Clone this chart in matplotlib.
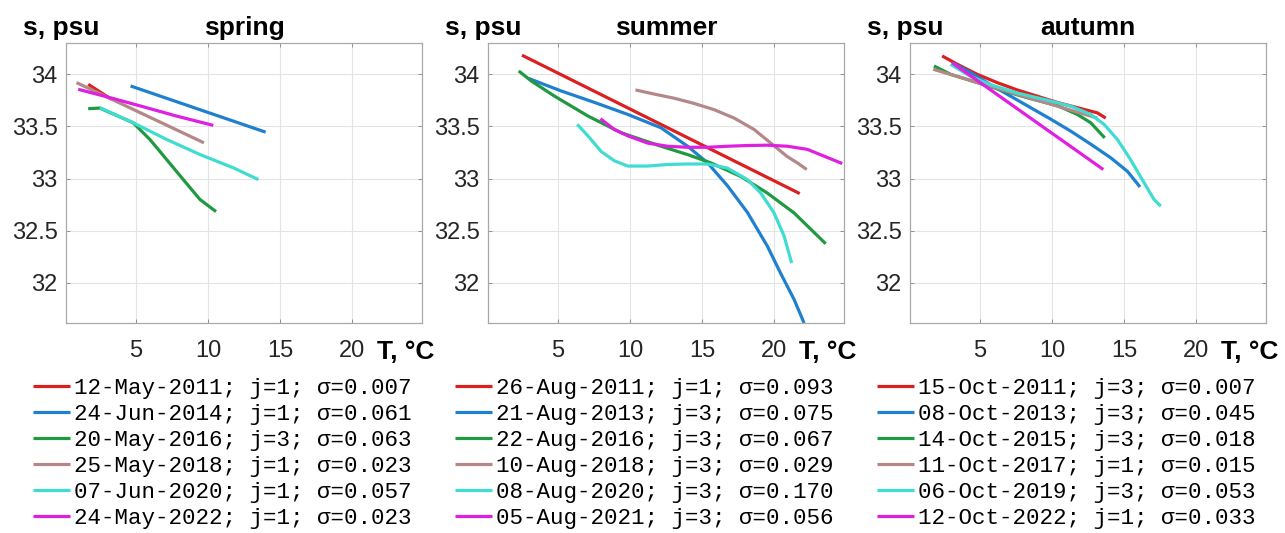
import matplotlib
matplotlib.use('Agg')
import numpy as np
from matplotlib import pyplot as plt

### Data (T in deg C, s in psu)
seasons = ['spring', 'summer', 'autumn']
colors = ['#dc2020', '#2080d0', '#209a40', '#b48888', '#40dcd2', '#e020e0']

labels_spring = ['12-May-2011; j=1; σ=0.007', '24-Jun-2014; j=1; σ=0.061',
                 '20-May-2016; j=3; σ=0.063', '25-May-2018; j=1; σ=0.023',
                 '07-Jun-2020; j=1; σ=0.057', '24-May-2022; j=1; σ=0.023']
labels_summer = ['26-Aug-2011; j=1; σ=0.093', '21-Aug-2013; j=3; σ=0.075',
                 '22-Aug-2016; j=3; σ=0.067', '10-Aug-2018; j=3; σ=0.029',
                 '08-Aug-2020; j=3; σ=0.170', '05-Aug-2021; j=3; σ=0.056']
labels_autumn = ['15-Oct-2011; j=3; σ=0.007', '08-Oct-2013; j=3; σ=0.045',
                 '14-Oct-2015; j=3; σ=0.018', '11-Oct-2017; j=1; σ=0.015',
                 '06-Oct-2019; j=3; σ=0.053', '12-Oct-2022; j=1; σ=0.033']

# spring
t_spring = [
    [1.69, 3.3],
    [4.63, 14.0],
    [1.69, 2.5, 4.81, 5.97, 7.13, 8.29, 9.44, 10.56],
    [0.88, 9.72],
    [2.5, 4.81, 7.13, 9.44, 11.76, 13.5],
    [1.0, 3.2, 5.5, 7.8, 10.37],
]
s_spring = [
    [33.904, 33.76],
    [33.888, 33.445],
    [33.67, 33.676, 33.535, 33.375, 33.183, 32.99, 32.80, 32.683],
    [33.92, 33.343],
    [33.68, 33.535, 33.375, 33.231, 33.103, 32.99],
    [33.856, 33.776, 33.689, 33.60, 33.51],
]

# summer
t_summer = [
    [2.51, 21.78],
    [2.97, 5.23, 7.54, 9.85, 12.15, 14.0, 15.39, 16.77, 18.15, 19.54, 20.46, 21.39, 22.08],
    [2.28, 3.15, 4.77, 7.08, 9.38, 12.15, 14.0, 15.62, 17.69, 19.54, 21.39, 23.58],
    [10.38, 11.69, 13.08, 14.46, 15.85, 17.23, 18.62, 19.77, 20.92, 21.62, 22.26],
    [6.34, 7.08, 8.0, 8.92, 9.85, 11.23, 12.62, 14.0, 15.39, 16.77, 18.15, 19.08, 20.0, 20.69, 21.22],
    [7.95, 8.92, 9.85, 11.23, 12.62, 14.0, 15.39, 16.77, 18.15, 19.54, 20.92, 22.31, 23.46, 24.73],
]
s_summer = [
    [34.183, 32.856],
    [33.96, 33.84, 33.73, 33.615, 33.487, 33.31, 33.15, 32.93, 32.675, 32.35, 32.09, 31.84, 31.615],
    [34.032, 33.936, 33.79, 33.6, 33.44, 33.31, 33.23, 33.15, 33.02, 32.86, 32.67, 32.375],
    [33.85, 33.81, 33.77, 33.72, 33.66, 33.58, 33.47, 33.34, 33.21, 33.15, 33.087],
    [33.52, 33.41, 33.26, 33.17, 33.12, 33.12, 33.135, 33.14, 33.14, 33.10, 32.99, 32.86, 32.67, 32.45, 32.19],
    [33.574, 33.47, 33.41, 33.34, 33.31, 33.30, 33.30, 33.31, 33.317, 33.32, 33.31, 33.28, 33.215, 33.144],
]

# autumn
t_autumn = [
    [2.38, 3.43, 4.81, 6.2, 7.59, 8.98, 10.37, 11.76, 13.15, 13.73],
    [3.08, 4.35, 5.74, 7.13, 8.52, 9.91, 11.3, 12.69, 14.07, 15.23, 16.11],
    [1.81, 2.96, 4.81, 6.67, 8.52, 10.37, 11.76, 12.69, 13.66],
    [1.76, 13.15],
    [2.96, 4.35, 5.74, 7.59, 9.44, 11.3, 12.69, 13.61, 14.54, 15.46, 16.39, 17.08, 17.55],
    [3.08, 13.56],
]
s_autumn = [
    [34.176, 34.096, 34.0, 33.92, 33.85, 33.79, 33.73, 33.68, 33.63, 33.58],
    [34.11, 34.016, 33.9, 33.79, 33.68, 33.57, 33.455, 33.33, 33.2, 33.07, 32.92],
    [34.08, 34.0, 33.92, 33.84, 33.766, 33.70, 33.615, 33.535, 33.39],
    [34.048, 33.58],
    [34.096, 33.98, 33.90, 33.82, 33.76, 33.695, 33.615, 33.52, 33.375, 33.18, 32.96, 32.80, 32.735],
    [34.11, 33.087],
]

xticks = [5, 10, 15, 20]
yticks = [32, 32.5, 33, 33.5, 34]
yticklabels = ['32', '32.5', '33', '33.5', '34']

### Figure
plt.rcParams['font.family'] = ['Liberation Sans', 'DejaVu Sans']
fig = plt.figure(figsize=(12.85, 5.33), dpi=100)

panels = [(seasons[0], t_spring, s_spring, labels_spring),
          (seasons[1], t_summer, s_summer, labels_summer),
          (seasons[2], t_autumn, s_autumn, labels_autumn)]
lefts = [66, 488, 910]

for left, (name, tt, ss, labs) in zip(lefts, panels):
    ax = fig.add_axes([left / 1285, 1 - 323 / 533, 356 / 1285, 280 / 533])
    for t, s, c, lab in zip(tt, ss, colors, labs):
        ax.plot(t, s, color=c, lw=2.3, label=lab, solid_capstyle='butt',
                solid_joinstyle='round')
    ax.set_xlim(0.15, 24.85)
    ax.set_ylim(31.615, 34.3)
    ax.set_xticks(xticks)
    ax.set_yticks(yticks)
    ax.set_yticklabels(yticklabels)
    ax.grid(True, color='#e4e4e4', lw=0.8)
    ax.set_axisbelow(True)
    for sp in ax.spines.values():
        sp.set_color('#a8a8a8')
        sp.set_linewidth(0.9)
    ax.tick_params(axis='both', direction='in', length=3, width=0.7, color='#909090',
                   labelsize=17, labelcolor='#262626', top=True, right=True)
    ax.tick_params(axis='x', pad=12)
    ax.tick_params(axis='y', pad=6)

    ax.text(-0.122, 1.03, 's, psu', transform=ax.transAxes, fontsize=19,
            fontweight='bold', ha='left', va='baseline')
    ax.text(0.5, 1.03, name, transform=ax.transAxes, fontsize=19,
            fontweight='bold', ha='center', va='baseline')
    ax.text(0.873, -0.13, 'T, °C', transform=ax.transAxes, fontsize=19,
            fontweight='bold', ha='left', va='baseline')

    leg = ax.legend(loc='upper left', bbox_to_anchor=(-0.093, -0.196),
                    frameon=False, borderpad=0, borderaxespad=0,
                    handlelength=1.64, handletextpad=0.18, labelspacing=0.22,
                    prop={'family': ['Liberation Mono', 'DejaVu Sans Mono'], 'size': 16.2})
    for line in leg.get_lines():
        line.set_linewidth(2.3)

plt.savefig('out.png', dpi=100)
